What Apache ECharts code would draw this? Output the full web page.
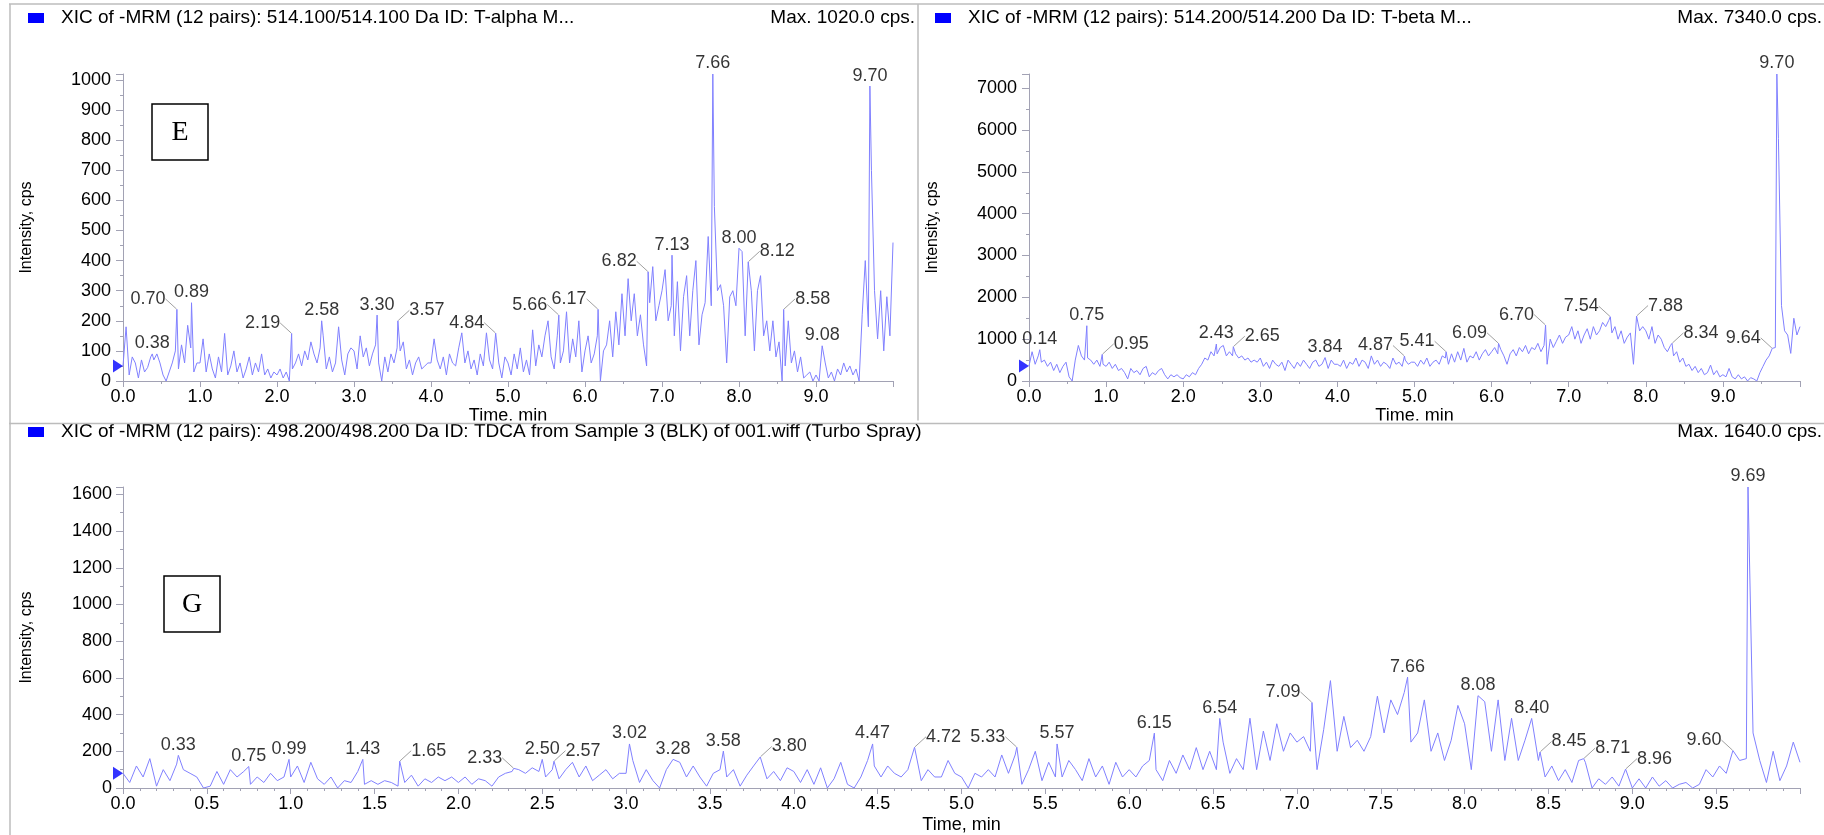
<!DOCTYPE html>
<html>
<head>
<meta charset="utf-8">
<script src="https://cdn.jsdelivr.net/npm/echarts@6/dist/echarts.min.js"></script>
<style>
  html, body { margin: 0; padding: 0; background: #fff; }
  #chart { width: 1824px; height: 835px; }
</style>
</head>
<body>
<div id="chart"></div>
<script>
// Scan spacing of the XIC traces, minutes
const STEP = 0.04;

// ---- T-alpha, 514.100/514.100 Da: intensity (cps), one row per minute of run time
const alphaTitle = 'XIC of -MRM (12 pairs): 514.100/514.100 Da ID: T-alpha M...';
const alphaRows = [
  [50, 180, 20, 80, 60, 10, 70, 30, 45, 80, 70, 90, 60, 20, 0, 30, 60, 100, 40, 120, 60, 185, 110, 30, 60],
  [60, 140, 30, 90, 40, 10, 80, 30, 158, 20, 50, 100, 30, 60, 10, 40, 80, 20, 60, 30, 90, 20, 40, 10, 30],
  [20, 40, 10, 30, 0, 40, 60, 90, 50, 100, 70, 130, 90, 60, 110, 150, 40, 80, 30, 60, 180, 70, 20, 90, 110],
  [100, 40, 150, 80, 110, 50, 90, 120, 60, 0, 80, 30, 90, 60, 110, 100, 130, 40, 70, 20, 60, 80, 40, 50, 60],
  [60, 140, 70, 40, 80, 20, 90, 60, 50, 110, 160, 60, 100, 40, 70, 20, 90, 50, 160, 70, 40, 120, 60, 10, 80],
  [60, 20, 90, 40, 110, 30, 70, 20, 170, 50, 120, 80, 150, 200, 80, 40, 150, 60, 100, 230, 60, 140, 80, 200, 30],
  [100, 150, 60, 90, 150, 0, 100, 120, 200, 80, 230, 120, 290, 150, 340, 200, 290, 150, 220, 120, 50, 260, 380, 200, 250],
  [300, 370, 200, 250, 150, 330, 100, 280, 350, 150, 300, 400, 120, 220, 260, 480, 250, 580, 300, 320, 250, 60, 280, 300, 250],
  [200, 430, 150, 250, 300, 100, 300, 350, 150, 200, 100, 200, 80, 130, 0, 50, 200, 60, 100, 30, 80, 10, 20, 30, 0],
  [20, 0, 40, 60, 10, 30, 0, 40, 20, 60, 30, 50, 20, 40, 0, 220, 400, 180, 700, 300, 140, 300, 100, 280, 150, 460]
];
const alphaPeakTimes  = [0.38, 0.70, 0.89, 2.19, 2.58, 3.30, 3.57, 4.84, 5.66, 6.17, 6.82, 7.13, 7.66, 8.00, 8.12, 8.58, 9.08, 9.70];
const alphaPeakValues = [90, 238, 260, 158, 200, 219, 200, 159, 219, 238, 363, 418, 1020, 441, 396, 238, 117, 980];
const alphaYTicks = [0, 100, 200, 300, 400, 500, 600, 700, 800, 900, 1000];

// ---- T-beta, 514.200/514.200 Da
const betaTitle = 'XIC of -MRM (12 pairs): 514.200/514.200 Da ID: T-beta M...';
const betaRows = [
  [360, 700, 400, 600, 450, 500, 350, 450, 250, 400, 200, 350, 450, 100, 0, 500, 850, 600, 500, 550, 500, 400, 500, 350, 400],
  [350, 450, 300, 400, 250, 300, 200, 50, 300, 200, 250, 150, 300, 350, 100, 200, 150, 250, 300, 150, 50, 150, 100, 150, 80],
  [50, 150, 100, 200, 150, 300, 400, 550, 500, 700, 600, 650, 800, 850, 600, 700, 600, 650, 550, 600, 500, 550, 450, 500, 450],
  [550, 350, 450, 300, 500, 400, 350, 450, 250, 500, 400, 300, 450, 350, 500, 400, 300, 450, 500, 350, 400, 450, 300, 500, 400],
  [400, 350, 500, 300, 450, 400, 550, 350, 500, 450, 300, 600, 400, 500, 350, 450, 400, 300, 550, 400, 450, 350, 500, 400, 450],
  [450, 350, 500, 400, 550, 350, 450, 500, 400, 600, 550, 400, 650, 450, 700, 500, 780, 450, 600, 550, 700, 500, 650, 750, 600],
  [700, 800, 650, 750, 600, 400, 650, 750, 600, 800, 700, 850, 650, 800, 750, 900, 700, 850, 400, 1000, 800, 950, 1100, 900, 1050],
  [1100, 1300, 1000, 1200, 900, 1100, 1250, 1000, 1300, 1100, 1200, 1400, 1300, 1450, 1150, 1300, 1000, 1200, 900, 1050, 1150, 400, 1350, 1200, 1300],
  [1200, 1000, 1300, 900, 1100, 1000, 800, 700, 850, 600, 700, 450, 550, 350, 400, 250, 350, 200, 300, 150, 200, 380, 150, 250, 100],
  [150, 100, 300, 100, 50, 150, 50, 100, 0, 80, 50, 0, 200, 350, 500, 600, 700, 800, 5800, 1800, 1200, 1100, 660, 1500, 1100, 1300]
];
const betaPeakTimes  = [0.14, 0.75, 0.95, 2.43, 2.65, 3.84, 4.87, 5.41, 6.09, 6.70, 7.54, 7.88, 8.34, 9.64, 9.70];
const betaPeakValues = [748, 1321, 637, 884, 820, 560, 597, 700, 900, 1338, 1536, 1553, 900, 780, 7340];
const betaYTicks = [0, 1000, 2000, 3000, 4000, 5000, 6000, 7000];

// ---- TDCA, 498.200/498.200 Da, Sample 3 (BLK)
const tdcaTitle = 'XIC of -MRM (12 pairs): 498.200/498.200 Da ID: TDCA from Sample 3 (BLK) of 001.wiff (Turbo Spray)';
const tdcaRows = [
  [80, 30, 120, 60, 160, 10, 100, 40, 130, 100, 80, 60, 0, 10, 90, 20, 100, 60, 90, 20, 60, 30, 80, 40, 60],
  [60, 120, 30, 140, 50, 20, 60, 0, 40, 30, 90, 20, 40, 20, 40, 30, 10, 30, 70, 10, 50, 30, 60, 40, 60],
  [30, 60, 20, 50, 40, 10, 60, 80, 90, 100, 80, 110, 90, 60, 100, 50, 100, 140, 60, 120, 40, 70, 100, 50, 80],
  [80, 150, 30, 100, 40, 0, 100, 130, 140, 60, 120, 60, 10, 80, 100, 60, 100, 10, 70, 120, 100, 50, 90, 40, 110],
  [90, 30, 100, 20, 110, 0, 50, 140, 20, 0, 60, 150, 120, 60, 120, 80, 60, 100, 80, 40, 100, 60, 60, 150, 80],
  [60, 0, 80, 60, 100, 60, 180, 80, 180, 20, 100, 200, 40, 140, 60, 60, 150, 100, 40, 160, 60, 120, 20, 140, 60],
  [100, 60, 120, 150, 100, 40, 150, 80, 180, 100, 220, 100, 200, 100, 250, 80, 160, 100, 380, 100, 310, 150, 350, 200, 300],
  [250, 280, 200, 100, 320, 585, 200, 390, 220, 260, 200, 280, 500, 300, 480, 400, 520, 250, 300, 480, 200, 300, 150, 260, 450],
  [350, 100, 300, 470, 200, 480, 150, 380, 150, 260, 200, 150, 60, 120, 40, 100, 30, 150, 140, 0, 50, 20, 60, 10, 40],
  [0, 50, 0, 60, 10, 40, 0, 20, 30, 0, 20, 100, 60, 120, 80, 120, 150, 160, 300, 150, 30, 200, 40, 120, 250, 140]
];
const tdcaPeakTimes  = [0.33, 0.75, 0.99, 1.43, 1.65, 2.33, 2.50, 2.57, 3.02, 3.28, 3.58, 3.80, 4.47, 4.72, 5.33, 5.57, 6.15, 6.54, 7.09, 7.66, 8.08, 8.40, 8.45, 8.71, 8.96, 9.60, 9.69];
const tdcaPeakValues = [178, 117, 156, 156, 146, 107, 156, 146, 240, 156, 201, 169, 240, 222, 222, 240, 299, 379, 466, 604, 503, 379, 196, 160, 103, 204, 1640];
const tdcaYTicks = [0, 200, 400, 600, 800, 1000, 1200, 1400, 1600];

// Which way each apex label is pulled aside (with a leader) to stay clear of its neighbours
const alphaLabelSide = [0, -1, 0, -1, 0, 0, 1, -1, -1, -1, -1, 0, 0, 0, 1, 1, 0, 0];
const betaLabelSide  = [0, 0, 1, 0, 1, 0, -1, -1, -1, -1, -1, 1, 1, -1, 0];
const tdcaLabelSide  = [0, 0, 0, 0, 1, -1, 0, 1, 0, 0, 0, 1, 0, 1, -1, 0, 0, 0, -1, 0, 0, 0, 1, 1, 1, -1, 0];

// ---------------------------------------------------------------------------
const TRACE = '#8080ff';
const AXIS = '#a2a2b4';
const FRAME = '#bcbcbc';
const FONT = '"Liberation Sans", Arial, Helvetica, sans-serif';

// merge the regular scans with the picked apex points, ordered by time
function trace(rows, peakT, peakV) {
  const pts = [];
  rows.forEach((row, m) => row.forEach((v, j) => {
    const t = Math.round((m + j * STEP) * 100) / 100;
    if (!peakT.some(p => Math.abs(p - t) < 0.005)) pts.push([t, v]);
  }));
  peakT.forEach((t, i) => pts.push([t, peakV[i]]));
  pts.sort((a, b) => a[0] - b[0]);
  return pts;
}

function xAxis(gridIndex, interval, minorSplit, nameGap) {
  return {
    type: 'value', gridIndex, min: 0, max: 10, interval,
    axisLine: { lineStyle: { color: AXIS, width: 1 } },
    axisTick: { length: 6, lineStyle: { color: AXIS } },
    minorTick: { show: true, splitNumber: minorSplit, length: 3, lineStyle: { color: AXIS } },
    splitLine: { show: false },
    axisLabel: {
      color: '#000', fontSize: 18, fontFamily: FONT, margin: 7,
      showMaxLabel: false, formatter: v => v.toFixed(1)
    },
    name: 'Time, min', nameLocation: 'middle', nameGap,
    nameTextStyle: { color: '#000', fontSize: 18, fontFamily: FONT }
  };
}

function yAxis(gridIndex, max, ticks, margin) {
  return {
    type: 'value', gridIndex, min: 0, max, interval: ticks[1] - ticks[0],
    axisLine: { show: true, lineStyle: { color: AXIS, width: 1 } },
    axisTick: { show: true, length: 7, lineStyle: { color: AXIS } },
    minorTick: { show: true, splitNumber: 2, length: 3, lineStyle: { color: AXIS } },
    splitLine: { show: false },
    axisLabel: {
      color: '#000', fontSize: 18, fontFamily: FONT, margin,
      showMaxLabel: false,
      formatter: v => (ticks.indexOf(v) >= 0 ? String(v) : '')
    },
    name: 'Intensity, cps', nameLocation: 'middle', nameGap: 88,
    nameTextStyle: { color: '#000', fontSize: 16, fontFamily: FONT }
  };
}

function lineSeries(idx, data) {
  return {
    type: 'line', xAxisIndex: idx, yAxisIndex: idx, data,
    showSymbol: false, symbol: 'none', silent: true, animation: false,
    lineStyle: { color: TRACE, width: 1 }, z: 2
  };
}

// apex labels: centred ones sit straight on top, the others are pulled aside with a grey leader
function labelSeries(idx, peakT, peakV, side, wantSide) {
  const data = [];
  const shift = [];
  peakT.forEach((t, i) => {
    if ((side[i] !== 0) === wantSide) { data.push([t, peakV[i]]); shift.push(side[i]); }
  });
  return {
    type: 'scatter', xAxisIndex: idx, yAxisIndex: idx, data,
    symbolSize: 1, itemStyle: { color: 'rgba(0,0,0,0)' }, silent: true, animation: false, z: 5,
    label: {
      show: true, position: 'top', distance: 1, color: '#000',
      fontSize: 18, fontFamily: FONT, formatter: p => p.value[0].toFixed(2)
    },
    labelLine: { show: wantSide, length2: 0, smooth: false, lineStyle: { color: '#a0a0a0', width: 1 } },
    labelLayout: wantSide ? (p => ({ dx: shift[p.dataIndex] * 29, dy: 0 })) : undefined
  };
}

// blue start marker pointing at the first scan on the intensity axis
function startMarker(idx, rows) {
  return {
    type: 'scatter', xAxisIndex: idx, yAxisIndex: idx, data: [[0, rows[0][0]]],
    symbol: 'path://M0,0 L10,6.5 L0,13 Z', symbolSize: [10, 13], symbolOffset: [-5, 0],
    itemStyle: { color: '#0000ff' }, silent: true, animation: false, z: 6, clip: false
  };
}

const peakMax = arr => Math.max(...arr);
const maxText = v => 'Max. ' + v.toFixed(1) + ' cps.';

const alphaMax = peakMax(alphaPeakValues);
const betaMax = peakMax(betaPeakValues);
const tdcaMax = peakMax(tdcaPeakValues);

function header(x0, y, title, maxLabel, xRight) {
  return [
    { type: 'rect', shape: { x: x0, y: y - 5, width: 16, height: 10 }, style: { fill: '#0000ff' } },
    { type: 'text', x: x0 + 33, y, style: { text: title, fontSize: 19, fontFamily: FONT, fill: '#000', verticalAlign: 'middle' } },
    { type: 'text', x: xRight, y, style: { text: maxLabel, fontSize: 19, fontFamily: FONT, fill: '#000', align: 'right', verticalAlign: 'middle' } }
  ];
}

function tagBox(x, y, letter) {
  return [
    { type: 'rect', shape: { x, y, width: 56, height: 56 }, style: { fill: '#fff', stroke: '#000', lineWidth: 1.5 }, z: 10 },
    { type: 'text', x: x + 28, y: y + 29, z: 11,
      style: { text: letter, fontSize: 28, fontFamily: '"Liberation Serif", "Times New Roman", serif', fill: '#000', align: 'center', verticalAlign: 'middle' } }
  ];
}

const frame = [
  { type: 'line', shape: { x1: 9, y1: 4, x2: 1824, y2: 4 }, style: { stroke: FRAME, lineWidth: 1.5 } },
  { type: 'line', shape: { x1: 10, y1: 4, x2: 10, y2: 835 }, style: { stroke: FRAME, lineWidth: 1.5 } },
  { type: 'line', shape: { x1: 918, y1: 4, x2: 918, y2: 423.5 }, style: { stroke: FRAME, lineWidth: 1.5 } },
  { type: 'rect', shape: { x: 11, y: 420.5, width: 1813, height: 2.5 }, style: { fill: '#fff' }, z: 20 },
  { type: 'line', shape: { x1: 9, y1: 423.5, x2: 1824, y2: 423.5 }, style: { stroke: FRAME, lineWidth: 1.5 }, z: 21 }
];

const chart = echarts.init(document.getElementById('chart'), null, { renderer: 'canvas' });
chart.setOption({
  animation: false,
  backgroundColor: '#fff',
  grid: [
    { left: 123, top: 74, width: 770, height: 307 },
    { left: 1029, top: 74, width: 771, height: 307 },
    { left: 123, top: 487, width: 1677, height: 308 }
  ],
  xAxis: [xAxis(0, 1, 2, 22), xAxis(1, 1, 2, 22), xAxis(2, 0.5, 5, 28)],
  yAxis: [yAxis(0, alphaMax, alphaYTicks, 12), yAxis(1, betaMax, betaYTicks, 12), yAxis(2, tdcaMax, tdcaYTicks, 11)],
  series: [
    lineSeries(0, trace(alphaRows, alphaPeakTimes, alphaPeakValues)),
    lineSeries(1, trace(betaRows, betaPeakTimes, betaPeakValues)),
    lineSeries(2, trace(tdcaRows, tdcaPeakTimes, tdcaPeakValues)),
    labelSeries(0, alphaPeakTimes, alphaPeakValues, alphaLabelSide, false),
    labelSeries(0, alphaPeakTimes, alphaPeakValues, alphaLabelSide, true),
    labelSeries(1, betaPeakTimes, betaPeakValues, betaLabelSide, false),
    labelSeries(1, betaPeakTimes, betaPeakValues, betaLabelSide, true),
    labelSeries(2, tdcaPeakTimes, tdcaPeakValues, tdcaLabelSide, false),
    labelSeries(2, tdcaPeakTimes, tdcaPeakValues, tdcaLabelSide, true),
    startMarker(0, alphaRows),
    startMarker(1, betaRows),
    startMarker(2, tdcaRows)
  ],
  graphic: [].concat(
    frame,
    header(28, 18, alphaTitle, maxText(alphaMax), 915),
    header(935, 18, betaTitle, maxText(betaMax), 1822),
    header(28, 432, tdcaTitle, maxText(tdcaMax), 1822),
    tagBox(152, 104, 'E'),
    tagBox(164, 576, 'G')
  )
});
</script>
</body>
</html>
